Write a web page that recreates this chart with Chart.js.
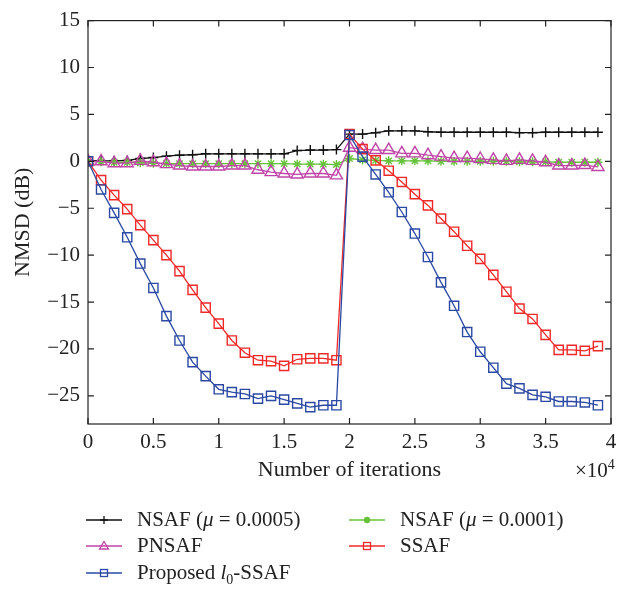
<!DOCTYPE html>
<html>
<head>
<meta charset="utf-8">
<script src="https://cdn.jsdelivr.net/npm/chart.js@4.4.1/dist/chart.umd.min.js"></script>
<style>
  html, body { margin: 0; padding: 0; background: #fff; }
  #wrap { position: relative; width: 634px; height: 589px; font-family: 'Liberation Serif', serif; color: #222; }
  #chart { position: absolute; left: 0; top: 0; }
  .lg { position: absolute; font-size: 21px; white-space: nowrap; line-height: 1; }
  .lg svg { position: absolute; }
  #mult { position: absolute; left: 575px; top: 457px; font-size: 21px; }
</style>
</head>
<body>
<div id="wrap">
  <canvas id="chart" width="634" height="589"></canvas>
  <div id="mult">×10<sup style="font-size:14px;vertical-align:8px">4</sup></div>
  <div id="legend"></div>
</div>
<script>
// iterations (x 10^4)
const iterations = [0, 0.1, 0.2, 0.3, 0.4, 0.5, 0.6, 0.7, 0.8, 0.9,
  1.0, 1.1, 1.2, 1.3, 1.4, 1.5, 1.6, 1.7, 1.8, 1.9,
  2.0, 2.1, 2.2, 2.3, 2.4, 2.5, 2.6, 2.7, 2.8, 2.9,
  3.0, 3.1, 3.2, 3.3, 3.4, 3.5, 3.6, 3.7, 3.8, 3.9];

const nsaf5 = [0.1, 0.05, 0.05, 0.1, 0.3, 0.4, 0.55, 0.65, 0.7, 0.8,
  0.8, 0.8, 0.8, 0.8, 0.8, 0.8, 1.15, 1.2, 1.2, 1.25,
  2.9, 2.9, 3.05, 3.25, 3.25, 3.25, 3.15, 3.1, 3.1, 3.1,
  3.1, 3.1, 3.1, 3.05, 3.05, 3.1, 3.1, 3.1, 3.1, 3.1];

const nsaf1 = [0, -0.05, -0.1, -0.1, -0.15, -0.2, -0.25, -0.25, -0.25, -0.25,
  -0.25, -0.25, -0.25, -0.25, -0.25, -0.25, -0.3, -0.3, -0.3, -0.35,
  0.3, 0.15, 0.1, 0.05, 0.05, 0.05, 0.05, 0, 0, 0,
  0, 0, 0, -0.05, -0.05, -0.05, -0.1, -0.1, -0.1, -0.1];

const pnsaf = [0, 0, -0.2, -0.2, 0.05, -0.1, -0.3, -0.45, -0.55, -0.55,
  -0.55, -0.45, -0.45, -0.9, -1.15, -1.3, -1.4, -1.3, -1.3, -1.5,
  1.45, 1.3, 1.2, 1.2, 0.85, 0.85, 0.65, 0.5, 0.35, 0.35,
  0.25, 0.15, 0.05, 0.15, 0.05, -0.1, -0.45, -0.45, -0.4, -0.6];

const ssaf = [0, -2.0, -3.6, -5.1, -6.8, -8.4, -10.0, -11.7, -13.7, -15.6,
  -17.3, -19.1, -20.4, -21.2, -21.3, -21.8, -21.1, -21.0, -21.0, -21.2,
  2.9, 1.3, 0.1, -1.0, -2.2, -3.5, -4.7, -6.1, -7.5, -9.0,
  -10.4, -12.1, -13.9, -15.7, -16.8, -18.5, -20.1, -20.1, -20.2, -19.7];

const l0ssaf = [0, -3.0, -5.5, -8.1, -10.9, -13.5, -16.5, -19.1, -21.4, -22.9,
  -24.3, -24.6, -24.8, -25.3, -25.0, -25.4, -25.8, -26.2, -26.0, -26.0,
  2.8, 0.5, -1.4, -3.3, -5.4, -7.7, -10.2, -12.9, -15.4, -18.2,
  -20.3, -22.0, -23.7, -24.2, -24.9, -25.1, -25.6, -25.6, -25.7, -26.0];

const xTicks = [0, 0.5, 1, 1.5, 2, 2.5, 3, 3.5, 4];
const yTicks = [-25, -20, -15, -10, -5, 0, 5, 10, 15];

const BLACK = '#111111', GREEN = '#66c23a', MAGENTA = '#c044a8', RED = '#f02828', BLUE = '#2a48a4';

function series(label, values, color, style, radius, order) {
  return {
    label: label,
    data: values.map((v, i) => ({ x: iterations[i], y: v })),
    borderColor: color,
    borderWidth: 1.3,
    pointStyle: style,
    pointRadius: radius,
    pointBorderColor: color,
    pointBackgroundColor: 'rgba(0,0,0,0)',
    pointBorderWidth: 1.4,
    tension: 0,
    order: order
  };
}

// tick marks pointing inward on all four sides, plus the box
const boxTicks = {
  id: 'boxTicks',
  afterDraw(chart) {
    const { ctx, chartArea: a, scales } = chart;
    ctx.save();
    ctx.strokeStyle = '#222';
    ctx.lineWidth = 1.2;
    ctx.strokeRect(a.left, a.top, a.right - a.left, a.bottom - a.top);
    const L = 6;
    ctx.beginPath();
    xTicks.forEach(v => {
      const px = scales.x.getPixelForValue(v);
      ctx.moveTo(px, a.bottom); ctx.lineTo(px, a.bottom - L);
      ctx.moveTo(px, a.top); ctx.lineTo(px, a.top + L);
    });
    yTicks.forEach(v => {
      const py = scales.y.getPixelForValue(v);
      ctx.moveTo(a.left, py); ctx.lineTo(a.left + L, py);
      ctx.moveTo(a.right, py); ctx.lineTo(a.right - L, py);
    });
    ctx.stroke();
    ctx.restore();
  }
};

const tickFont = { family: 'Liberation Serif', size: 21 };
const titleFont = { family: 'Liberation Serif', size: 22 };

new Chart(document.getElementById('chart'), {
  type: 'line',
  data: {
    datasets: [
      series('NSAF (μ = 0.0005)', nsaf5, BLACK, 'cross', 5, 4),
      series('NSAF (μ = 0.0001)', nsaf1, GREEN, 'star', 4.5, 3),
      series('PNSAF', pnsaf, MAGENTA, 'triangle', 7, 2),
      series('SSAF', ssaf, RED, 'rect', 6.5, 1),
      series('Proposed l0-SSAF', l0ssaf, BLUE, 'rect', 6.5, 0)
    ]
  },
  options: {
    responsive: false,
    animation: false,
    layout: { padding: { left: 0, top: 11, right: 23, bottom: 106 } },
    plugins: { legend: { display: false }, tooltip: { enabled: false } },
    scales: {
      x: {
        type: 'linear', min: 0, max: 4,
        grid: { display: false, drawTicks: false },
        border: { display: false },
        afterBuildTicks: s => { s.ticks = xTicks.map(v => ({ value: v })); },
        afterFit: s => { s.height = 59; },
        ticks: { font: tickFont, color: '#222', padding: 6, maxRotation: 0,
          callback: v => String(v) },
        title: { display: true, text: 'Number of iterations', font: titleFont, color: '#222',
          padding: { top: 4, bottom: 0 } }
      },
      y: {
        type: 'linear', min: -28, max: 15,
        grid: { display: false, drawTicks: false },
        border: { display: false },
        afterBuildTicks: s => { s.ticks = yTicks.map(v => ({ value: v })); },
        afterFit: s => { s.width = 88; },
        ticks: { font: tickFont, color: '#222', padding: 8,
          callback: v => (v < 0 ? '\u2212' + Math.abs(v) : String(v)) },
        title: { display: true, text: 'NMSD (dB)', font: titleFont, color: '#222',
          padding: { top: 10, bottom: 4 } }
      }
    }
  },
  plugins: [boxTicks]
});

// legend drawn as html; rows and columns as in the figure
const legendItems = [
  { html: 'NSAF (<i>μ</i> = 0.0005)', color: BLACK, mark: 'cross', x: 86, y: 520 },
  { html: 'NSAF (<i>μ</i> = 0.0001)', color: GREEN, mark: 'dot', x: 349, y: 520 },
  { html: 'PNSAF', color: MAGENTA, mark: 'tri', x: 86, y: 546 },
  { html: 'SSAF', color: RED, mark: 'square', x: 349, y: 546 },
  { html: 'Proposed <i>l</i><sub style="font-size:14px">0</sub>-SSAF', color: BLUE, mark: 'square', x: 86, y: 573 }
];

function markSvg(mark, c) {
  const cx = 18;
  let m = '';
  if (mark === 'cross') m = `<path d="M${cx - 4} 8 H${cx + 4} M${cx} 4 V12" stroke="${c}" stroke-width="1.3"/>`;
  if (mark === 'dot') m = `<circle cx="${cx}" cy="8" r="3.2" fill="${c}"/>`;
  if (mark === 'tri') m = `<path d="M${cx} 3.5 L${cx + 4.5} 11 L${cx - 4.5} 11 Z" fill="none" stroke="${c}" stroke-width="1.3"/>`;
  if (mark === 'square') m = `<rect x="${cx - 3.5}" y="4.5" width="7" height="7" fill="none" stroke="${c}" stroke-width="1.3"/>`;
  return `<svg width="36" height="16" style="left:0;top:-8px"><line x1="0" y1="8" x2="36" y2="8" stroke="${c}" stroke-width="1.3"/>${m}</svg>`;
}

const legend = document.getElementById('legend');
legendItems.forEach(it => {
  const d = document.createElement('div');
  d.className = 'lg';
  d.style.left = it.x + 'px';
  d.style.top = it.y + 'px';
  d.innerHTML = markSvg(it.mark, it.color) +
    `<span style="position:absolute;left:51px;top:-11px">${it.html}</span>`;
  legend.appendChild(d);
});
</script>
</body>
</html>
